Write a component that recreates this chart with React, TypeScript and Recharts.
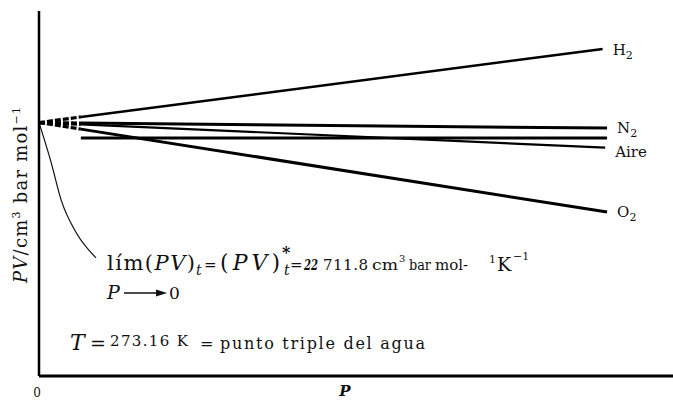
import { LineChart, Line, XAxis, YAxis } from 'recharts'

// Extrapolación de PV a presión nula para varios gases
const gases = ['H', 'N', 'Aire', 'O']
const subindices = ['2', '2', '', '2']
const pvLimite = 1.0
const presionCorte = 6.6
const pvCorte = [1.022, 0.998, 0.993, 0.974]
const presionFinal = [88.9, 89.6, 89.3, 89.6]
const pvFinal = [1.29, 0.978, 0.901, 0.647]

// recta horizontal de referencia
const referenciaP = [6.6, 89.6]
const referenciaPV = [0.939, 0.939]

// trazo que señala el límite
const flechaP = [0, 1.9, 3.5, 5.9, 9.0]
const flechaPV = [1.0, 0.844, 0.694, 0.564, 0.466]

const SERIF = '"DejaVu Serif", "Liberation Serif", serif'
const grosor = [2.5, 3, 2.2, 3]
const desplazEtiqueta = [6, 5, 9, 5]

const tramosDiscontinuos = gases.map((g, i) => [
  { p: 0, pv: pvLimite },
  { p: presionCorte, pv: pvCorte[i] },
])
const tramosContinuos = gases.map((g, i) => [
  { p: presionCorte, pv: pvCorte[i] },
  { p: presionFinal[i], pv: pvFinal[i] },
])
const referencia = referenciaP.map((p, i) => ({ p, pv: referenciaPV[i] }))
const flecha = flechaP.map((p, i) => ({ p, pv: flechaPV[i] }))

function etiquetaGas(i: number) {
  return (props: any) => {
    if (props.index !== 1) return null
    return (
      <text
        x={props.x + 10}
        y={props.y + desplazEtiqueta[i]}
        style={{ fontFamily: SERIF }}
        fontSize={15}
        fill="#111"
      >
        {gases[i]}
        {subindices[i] && (
          <tspan dy={4} fontSize={11}>
            {subindices[i]}
          </tspan>
        )}
      </text>
    )
  }
}

function Anotaciones() {
  return (
    <svg
      width={673}
      height={401}
      style={{ position: 'absolute', left: 0, top: 0, pointerEvents: 'none', fontFamily: SERIF }}
      fill="#111"
    >
      <text
        transform="translate(27,195) rotate(-90)"
        textAnchor="middle"
        fontSize={18}
        textLength={176}
        lengthAdjust="spacing"
      >
        <tspan fontStyle="italic">PV</tspan>/cm
        <tspan dy={-7} fontSize={11}>3</tspan>
        <tspan dy={7}> bar mol</tspan>
        <tspan dy={-7} fontSize={11}>−1</tspan>
      </text>

      <text x={107} y={270} fontSize={21} textLength={88} lengthAdjust="spacing">
        lím(<tspan fontStyle="italic">PV</tspan>)
      </text>
      <text x={196} y={275} fontSize={14} fontStyle="italic">t</text>
      <text x={204} y={270} fontSize={15}>=</text>
      <text x={220} y={270} fontSize={22} textLength={60} lengthAdjust="spacing">
        (<tspan fontStyle="italic">PV</tspan>)
      </text>
      <text x={282} y={258} fontSize={16} fontWeight="bold">*</text>
      <text x={284} y={275} fontSize={14} fontStyle="italic">t</text>
      <text x={290} y={270} fontSize={15}>=</text>
      <text x={304} y={270} fontSize={14} fontStyle="italic" fontWeight="bold" textLength={14} lengthAdjust="spacingAndGlyphs">
        22
      </text>
      <text x={323} y={270} fontSize={15} textLength={45} lengthAdjust="spacing">711.8</text>
      <text x={372} y={270} fontSize={15} textLength={26} lengthAdjust="spacingAndGlyphs">cm</text>
      <text x={399} y={262} fontSize={10}>3</text>
      <text x={409} y={270} fontSize={15} textLength={22} lengthAdjust="spacingAndGlyphs">bar</text>
      <text x={435} y={270} fontSize={15}>mol-</text>
      <text x={489} y={263} fontSize={11}>1</text>
      <text x={497} y={271} fontSize={19}>K</text>
      <text x={513} y={260} fontSize={11}>−1</text>

      <text x={107} y={299} fontSize={19} fontStyle="italic">P</text>
      <line x1={124} y1={293} x2={160} y2={293} stroke="#111" strokeWidth={1.6} />
      <polygon points="156,289.5 167,293 156,296.5" fill="#111" />
      <text x={169} y={299} fontSize={17}>0</text>

      <text x={70} y={350} fontSize={22} fontStyle="italic">T</text>
      <text x={90} y={350} fontSize={19}>=</text>
      <text x={110} y={346} fontSize={15} textLength={78} lengthAdjust="spacing">273.16 K</text>
      <text x={200} y={349} fontSize={16}>=</text>
      <text x={220} y={349} fontSize={16} textLength={205} lengthAdjust="spacing">
        punto triple del agua
      </text>

      <text x={345} y={396} fontSize={15} fontStyle="italic" fontWeight="bold" textAnchor="middle">
        P
      </text>
    </svg>
  )
}

export default function App() {
  return (
    <div
      style={{
        position: 'fixed',
        left: 0,
        top: 0,
        width: 673,
        height: 401,
        background: '#fff',
      }}
    >
      <LineChart width={673} height={401} margin={{ top: 11, right: 0, left: 38, bottom: 0 }}>
        <XAxis
          dataKey="p"
          type="number"
          domain={[0, 100]}
          allowDataOverflow
          ticks={[0]}
          tickLine={false}
          height={25}
          axisLine={{ stroke: '#000', strokeWidth: 3 }}
          tick={{ fill: '#111', fontSize: 12, fontFamily: SERIF, dx: -2, dy: 4 }}
        />
        <YAxis
          type="number"
          domain={[0, 1.44]}
          allowDataOverflow
          width={1}
          tick={false}
          tickLine={false}
          axisLine={{ stroke: '#000', strokeWidth: 2.5 }}
        />
        <Line
          data={flecha}
          dataKey="pv"
          type="monotoneX"
          stroke="#111"
          strokeWidth={1.2}
          dot={false}
          isAnimationActive={false}
        />
        {tramosDiscontinuos.map((d, i) => (
          <Line
            key={'d' + i}
            data={d}
            dataKey="pv"
            type="linear"
            stroke="#000"
            strokeWidth={3.2}
            strokeDasharray="6 2"
            dot={false}
            isAnimationActive={false}
          />
        ))}
        <Line
          data={referencia}
          dataKey="pv"
          type="linear"
          stroke="#000"
          strokeWidth={3}
          dot={false}
          isAnimationActive={false}
        />
        {tramosContinuos.map((d, i) => (
          <Line
            key={'c' + i}
            data={d}
            dataKey="pv"
            type="linear"
            stroke="#000"
            strokeWidth={grosor[i]}
            dot={false}
            label={etiquetaGas(i)}
            isAnimationActive={false}
          />
        ))}
      </LineChart>
      <Anotaciones />
    </div>
  )
}
